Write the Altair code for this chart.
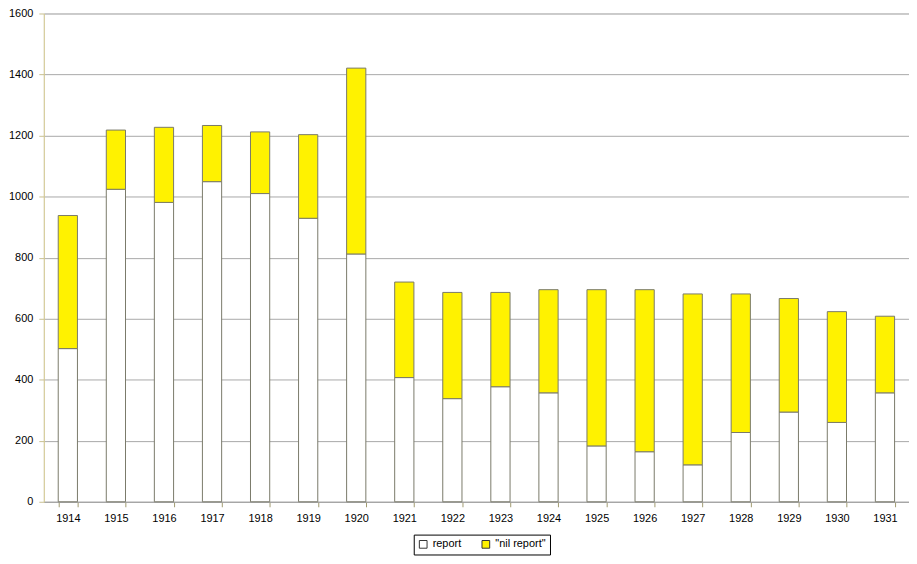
import altair as alt
import pandas as pd

years = [str(y) for y in range(1914, 1932)]
report = [502, 1024, 981, 1049, 1010, 929, 812, 407, 338, 377, 357, 183, 164, 121, 227, 294, 260, 357]
totals = [938, 1218, 1227, 1233, 1212, 1203, 1421, 720, 686, 686, 695, 695, 695, 681, 681, 666, 623, 608]
nil_report = [t - r for t, r in zip(totals, report)]

series_names = ["report", '"nil report"']
series_colors = ["#ffffff", "#fff200"]

rows = []
for y, r, n in zip(years, report, nil_report):
    rows.append({"year": y, "series": series_names[0], "value": r, "order": 0})
    rows.append({"year": y, "series": series_names[1], "value": n, "order": 1})
df = pd.DataFrame(rows)

font = "Liberation Sans"

chart = alt.Chart(df).mark_bar(stroke="#7a7a6a", strokeWidth=1).encode(
    x=alt.X("year:N", sort=years, title=None,
            scale=alt.Scale(paddingInner=0.6, paddingOuter=0.3),
            axis=alt.Axis(labelAngle=0, labelFont=font, labelFontSize=11, labelColor="#000000",
                          tickBand="extent", tickSize=5, tickColor="#a09a70",
                          domainColor="#a0a0a0", labelPadding=6, grid=False)),
    y=alt.Y("value:Q", stack="zero", title=None,
            scale=alt.Scale(domain=[0, 1600], nice=False),
            axis=alt.Axis(values=[0, 200, 400, 600, 800, 1000, 1200, 1400, 1600],
                          format="d",
                          labelFont=font, labelFontSize=11, labelColor="#000000",
                          tickSize=5, tickColor="#c8bf90", domainColor="#d4c98f",
                          gridColor="#a8a8a8", gridWidth=1, labelPadding=6)),
    fill=alt.Fill("series:N", sort=series_names,
                  scale=alt.Scale(domain=series_names, range=series_colors),
                  legend=alt.Legend(title=None, orient="none", direction="horizontal",
                                    legendX=372, legendY=524, strokeColor="#000000",
                                    padding=4, symbolType="square", symbolSize=60,
                                    symbolStrokeColor="#333333", symbolStrokeWidth=1,
                                    labelFont=font, labelFontSize=11, labelColor="#000000",
                                    columnPadding=18, fillColor="#ffffff")),
    order=alt.Order("order:Q"),
).properties(
    width=870,
    height=491,
    autosize=alt.AutoSizeParams(type="none"),
    padding={"left": 36, "top": 4, "right": 0, "bottom": 53},
).configure_view(stroke=None).configure(background="#ffffff")

chart.save("out.html", embed_options={"renderer": "svg", "actions": False})
